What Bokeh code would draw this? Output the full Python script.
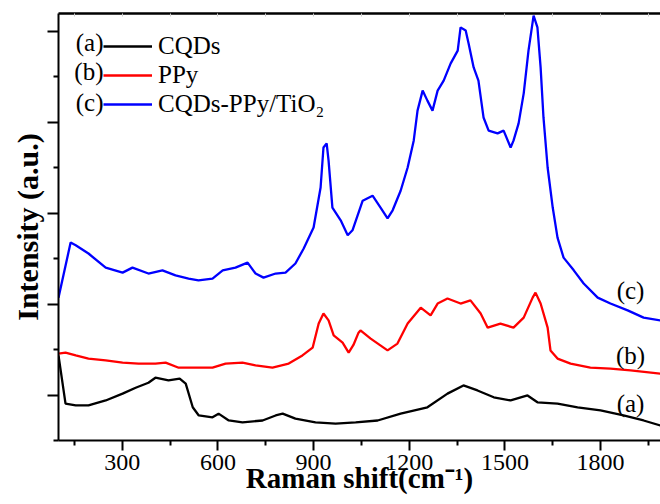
from bokeh.plotting import figure
from bokeh.models import (Range1d, FixedTicker, LinearAxis, Legend, LegendItem, Label)
from bokeh.embed import file_html
from bokeh.resources import INLINE

# ---- data ----
c_x = [100, 138, 154, 194, 248, 301, 332, 382, 426, 467, 508, 539, 583, 615, 655, 693, 718, 743,
       781, 812, 843, 869, 900, 922, 931, 941, 947, 959, 985, 1007, 1022, 1054, 1085, 1110, 1132,
       1148, 1173, 1195, 1214, 1226, 1242, 1257, 1273, 1289, 1308, 1330, 1352, 1361, 1377, 1386,
       1402, 1417, 1433, 1449, 1477, 1496, 1518, 1527, 1543, 1559, 1574, 1590, 1602, 1612, 1621,
       1634, 1650, 1665, 1684, 1716, 1747, 1791, 1831, 1885, 1935, 1988, 2000]
c_y = [3.14, 4.35, 4.29, 4.11, 3.80, 3.69, 3.80, 3.67, 3.74, 3.63, 3.56, 3.52, 3.56, 3.74, 3.80,
       3.91, 3.67, 3.58, 3.67, 3.69, 3.89, 4.22, 4.68, 5.56, 6.44, 6.53, 6.15, 5.12, 4.84, 4.51,
       4.62, 5.27, 5.38, 5.12, 4.88, 5.06, 5.49, 6.00, 6.59, 7.25, 7.69, 7.47, 7.25, 7.69, 7.91,
       8.29, 8.57, 9.08, 9.01, 8.73, 8.20, 7.91, 7.10, 6.81, 6.75, 6.81, 6.44, 6.59, 6.97, 7.63,
       8.57, 9.34, 9.08, 8.20, 7.10, 6.00, 5.12, 4.46, 4.02, 3.74, 3.45, 3.14, 3.01, 2.86, 2.70,
       2.64, 2.62]

b_x = [100, 122, 154, 194, 248, 301, 351, 404, 436, 477, 530, 583, 624, 677, 718, 771, 822, 865,
       897, 916, 931, 947, 963, 991, 1010, 1025, 1041, 1047, 1079, 1132, 1163, 1195, 1236, 1267,
       1289, 1320, 1361, 1392, 1424, 1446, 1486, 1527, 1559, 1587, 1596, 1612, 1634, 1643, 1665,
       1706, 1768, 1831, 1894, 1988, 2000]
b_y = [1.91, 1.93, 1.87, 1.80, 1.76, 1.71, 1.69, 1.69, 1.71, 1.60, 1.60, 1.60, 1.69, 1.71, 1.65,
       1.60, 1.69, 1.87, 2.04, 2.57, 2.79, 2.64, 2.31, 2.15, 1.93, 2.10, 2.37, 2.42, 2.24, 1.98,
       2.13, 2.57, 2.92, 2.75, 3.01, 3.12, 3.01, 3.08, 2.79, 2.48, 2.57, 2.48, 2.70, 3.14, 3.25,
       3.01, 2.48, 1.98, 1.80, 1.69, 1.60, 1.58, 1.54, 1.47, 1.47]

a_x = [100, 122, 154, 194, 248, 301, 342, 382, 404, 445, 480, 499, 521, 540, 583, 602, 634, 677,
       740, 781, 803, 843, 906, 969, 1032, 1101, 1173, 1257, 1320, 1370, 1414, 1465, 1518, 1571,
       1602, 1665, 1728, 1800, 1872, 1935, 1988, 2000]
a_y = [1.87, 0.81, 0.77, 0.77, 0.88, 1.03, 1.16, 1.27, 1.38, 1.32, 1.36, 1.25, 0.73, 0.55, 0.51,
       0.59, 0.44, 0.40, 0.44, 0.55, 0.59, 0.48, 0.40, 0.37, 0.40, 0.44, 0.59, 0.73, 1.03, 1.21,
       1.10, 0.95, 0.88, 0.99, 0.84, 0.81, 0.73, 0.66, 0.55, 0.44, 0.33, 0.32]

series_names = ["CQDs", "PPy", "CQDs-PPy/TiO\u2082"]
series_tags = ["(a)", "(b)", "(c)"]
series_colors = ["black", "#ff0000", "#0000ff"]
curve_tag_x = [1894, 1894, 1894]
curve_tag_y = [0.81, 1.87, 3.30]

x_title = "Raman shift(cm\u207b\u00b9)"
y_title = "Intensity (a.u.)"
x_major = [300, 600, 900, 1200, 1500, 1800]
x_minor = [150, 450, 750, 1050, 1350, 1650, 1950]
x_top = [150, 300, 450, 600, 750, 900, 1050, 1200, 1350, 1500, 1650, 1800, 1950]
y_major = [1, 3, 5, 7, 9]
y_minor = [0, 2, 4, 6, 8]

FONT = "Liberation Serif"
INK = "black"

p = figure(width=660, height=504, output_backend="svg", toolbar_location=None,
           x_range=Range1d(100, 1988), y_range=Range1d(0, 9.385),
           min_border_left=58, min_border_right=0, min_border_top=13, min_border_bottom=64,
           x_axis_label=x_title, y_axis_label=y_title)
p.outline_line_color = None
p.grid.visible = False
p.background_fill_color = "white"
p.border_fill_color = "white"

LW = 2.3
r_a = p.line(a_x, a_y, line_color=series_colors[0], line_width=LW)
r_b = p.line(b_x, b_y, line_color=series_colors[1], line_width=LW)
r_c = p.line(c_x, c_y, line_color=series_colors[2], line_width=LW)

# x axis
xa = p.xaxis[0]
xa.ticker = FixedTicker(ticks=x_major, minor_ticks=x_minor)
xa.axis_line_width = 2
xa.axis_line_color = INK
xa.major_tick_line_width = 2
xa.minor_tick_line_width = 2
xa.major_tick_line_color = INK
xa.minor_tick_line_color = INK
xa.major_tick_in = 0
xa.major_tick_out = 10
xa.minor_tick_in = 0
xa.minor_tick_out = 5
xa.major_label_text_font = FONT
xa.major_label_text_font_size = "24px"
xa.major_label_text_color = INK
xa.major_label_standoff = 4
xa.axis_label_text_font = FONT
xa.axis_label_text_font_style = "bold"
xa.axis_label_text_font_size = "29px"
xa.axis_label_text_color = INK
xa.axis_label_standoff = -11

# y axis
ya = p.yaxis[0]
ya.ticker = FixedTicker(ticks=y_major, minor_ticks=y_minor)
ya.axis_line_width = 2
ya.axis_line_color = INK
ya.major_tick_line_width = 2
ya.minor_tick_line_width = 2
ya.major_tick_line_color = INK
ya.minor_tick_line_color = INK
ya.major_tick_in = 0
ya.major_tick_out = 11
ya.minor_tick_in = 0
ya.minor_tick_out = 5
ya.major_label_overrides = {t: "" for t in y_major}
ya.major_label_standoff = 0
ya.axis_label_text_font = FONT
ya.axis_label_text_font_style = "bold"
ya.axis_label_text_font_size = "30px"
ya.axis_label_text_color = INK
ya.axis_label_standoff = 4

# top border axis
ta = LinearAxis(ticker=FixedTicker(ticks=x_top, minor_ticks=[]))
ta.axis_line_width = 2.5
ta.axis_line_color = INK
ta.major_tick_in = 3
ta.major_tick_out = 0
ta.major_tick_line_color = "#cccccc"
ta.major_label_overrides = {t: "" for t in x_top}
ta.major_label_standoff = 0
p.add_layout(ta, "above")

# legend
legend = Legend(items=[LegendItem(label=n, renderers=[r]) for n, r in zip(series_names, [r_a, r_b, r_c])],
                location=(45, 322), glyph_width=49, label_standoff=6, spacing=1,
                padding=0, margin=0, border_line_color=None, background_fill_alpha=0,
                label_text_font=FONT, label_text_font_size="25px", label_text_color=INK)
p.add_layout(legend)

for tag, ly in zip(series_tags, [398, 369, 338]):
    p.add_layout(Label(x=45, y=ly, x_units="screen", y_units="screen", text=tag,
                       text_align="right", text_baseline="middle", text_color=INK,
                       text_font=FONT, text_font_size="25px"))

for tag, lx, ly in zip(series_tags, curve_tag_x, curve_tag_y):
    p.add_layout(Label(x=lx, y=ly, text=tag, text_align="center", text_baseline="middle",
                       text_color=INK, text_font=FONT, text_font_size="25px"))

open("out.html", "w").write(file_html(p, INLINE))
